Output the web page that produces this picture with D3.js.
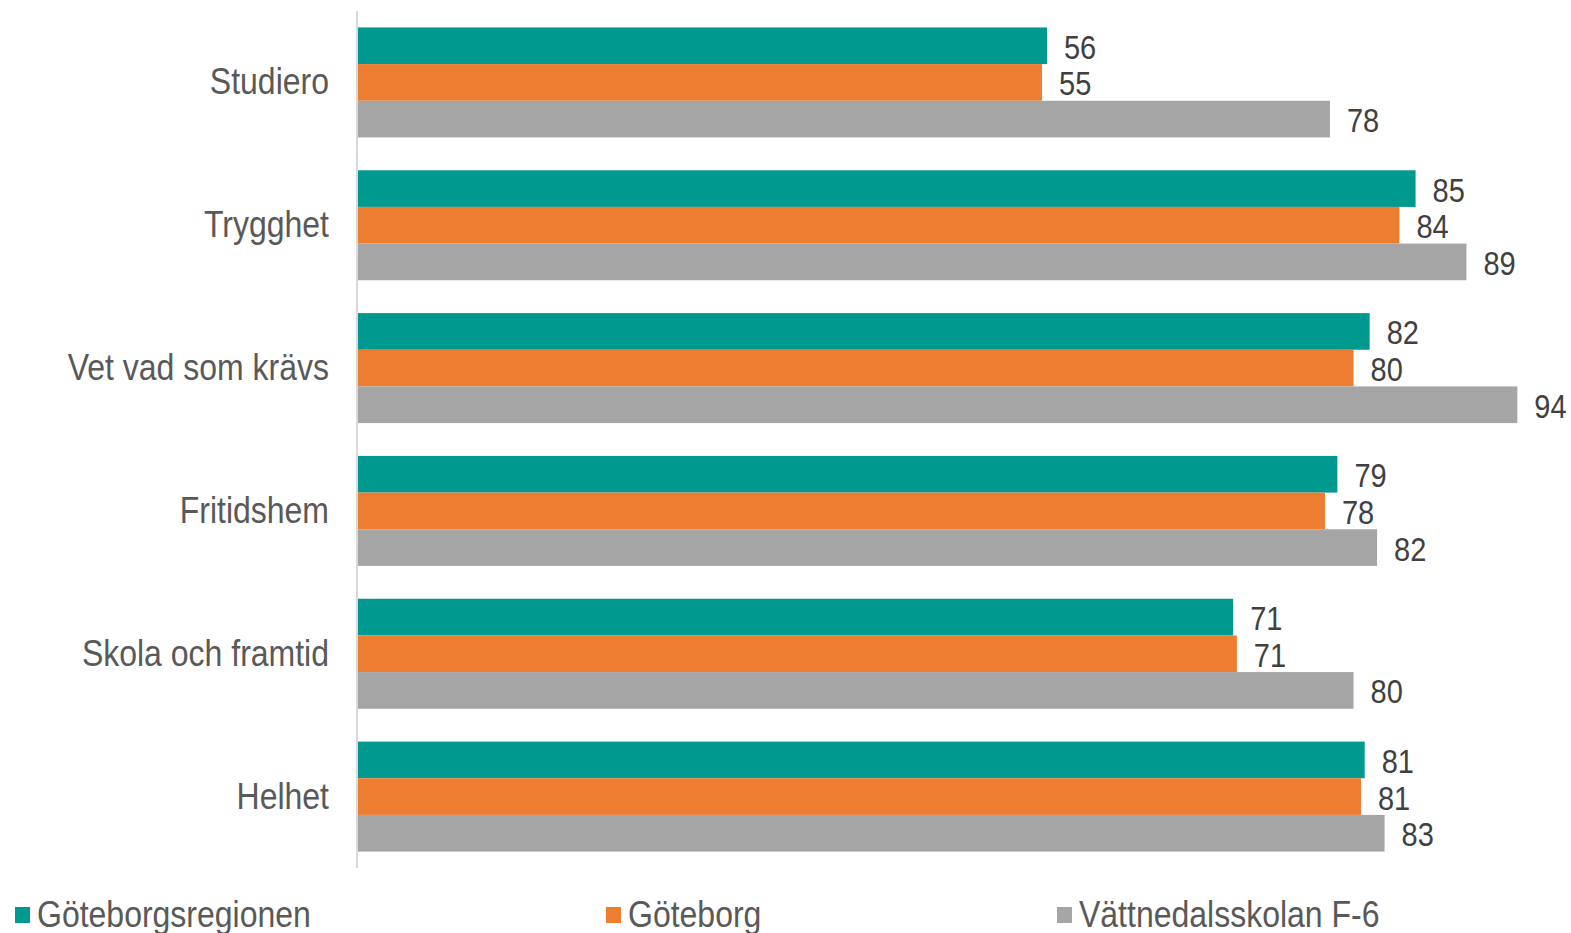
<!DOCTYPE html>
<html>
<head>
<meta charset="utf-8">
<script src="https://cdn.jsdelivr.net/npm/d3@7"></script>
<style>
  html, body { margin: 0; padding: 0; background: #fff; }
  svg { display: block; font-family: "Liberation Sans", Arial, sans-serif; }
</style>
</head>
<body>
<svg id="chart" width="1571" height="933"></svg>
<script>
(function () {
    'use strict';

    // ── Data ──────────────────────────────────────────────
    const categories = ['Studiero', 'Trygghet', 'Vet vad som krävs', 'Fritidshem', 'Skola och framtid', 'Helhet'];
    const seriesNames = ['Göteborgsregionen', 'Göteborg', 'Vättnedalsskolan F-6'];
    const seriesColors = ['#00998f', '#ed7d31', '#a5a5a5'];

    // values (labels show them rounded)
    const goteborgsregionen = [55.6, 85.3, 81.6, 79.0, 70.6, 81.2];
    const goteborg          = [55.2, 84.0, 80.3, 78.0, 70.9, 80.9];
    const vattnedal         = [78.4, 89.4, 93.5, 82.2, 80.3, 82.8];
    const seriesValues = [goteborgsregionen, goteborg, vattnedal];

    const AXIS_X  = 357;
    const TOP     = 11;
    const BOTTOM  = 868;
    const STRETCH = 1.14;   // text in the picture is slightly taller than wide

    const svg = d3.select('#chart');

    const x = d3.scaleLinear().domain([0, 100]).range([AXIS_X, AXIS_X + 1241]);
    const y = d3.scaleBand().domain(categories).range([TOP, BOTTOM])
                .paddingInner(0.23).paddingOuter(0.115);
    const ySub = d3.scaleBand().domain(d3.range(seriesNames.length)).range([0, y.bandwidth()]);

    // ── Bars ──────────────────────────────────────────────
    const group = svg.append('g').selectAll('g')
        .data(categories)
        .join('g')
        .attr('transform', d => `translate(0,${y(d)})`);

    group.selectAll('rect')
        .data((d, i) => seriesValues.map((vals, s) => ({ s, v: vals[i] })))
        .join('rect')
        .attr('x', x(0) + 1)
        .attr('y', d => ySub(d.s))
        .attr('width', d => x(d.v) - x(0) - 1)
        .attr('height', ySub.bandwidth())
        .attr('fill', d => seriesColors[d.s]);

    // value labels
    group.selectAll('text.val')
        .data((d, i) => seriesValues.map((vals, s) => ({ s, v: vals[i] })))
        .join('text')
        .attr('class', 'val')
        .attr('transform', d => `translate(${x(d.v) + 17},${ySub(d.s) + ySub.bandwidth() / 2 + 13}) scale(1,${STRETCH})`)
        .attr('font-size', '29px')
        .attr('fill', '#404040')
        .text(d => Math.round(d.v));

    // ── Axis (categories) ─────────────────────────────────
    const axis = svg.append('g')
        .attr('transform', `translate(${AXIS_X},0)`)
        .call(d3.axisLeft(y).tickSize(0).tickPadding(28));
    axis.select('.domain')
        .attr('d', `M0,${TOP}V${BOTTOM}`)
        .attr('stroke', '#d9d9d9')
        .attr('stroke-width', 2);
    axis.selectAll('.tick text')
        .attr('font-size', '32px')
        .attr('font-family', '"Liberation Sans", Arial, sans-serif')
        .attr('fill', '#595959')
        .attr('dy', null)
        .attr('x', null)
        .attr('transform', `translate(-28,12) scale(1,${STRETCH})`);

    // ── Legend ────────────────────────────────────────────
    const legendX = [15, 606, 1057];
    const legend = svg.append('g').selectAll('g')
        .data(seriesNames)
        .join('g')
        .attr('transform', (d, i) => `translate(${legendX[i]},0)`);

    legend.append('rect')
        .attr('x', 0).attr('y', 907)
        .attr('width', 15).attr('height', 16)
        .attr('fill', (d, i) => seriesColors[i]);

    legend.append('text')
        .attr('transform', `translate(22,927) scale(1,${STRETCH})`)
        .attr('font-size', '32px')
        .attr('fill', '#595959')
        .text(d => d);
})();
</script>
</body>
</html>
